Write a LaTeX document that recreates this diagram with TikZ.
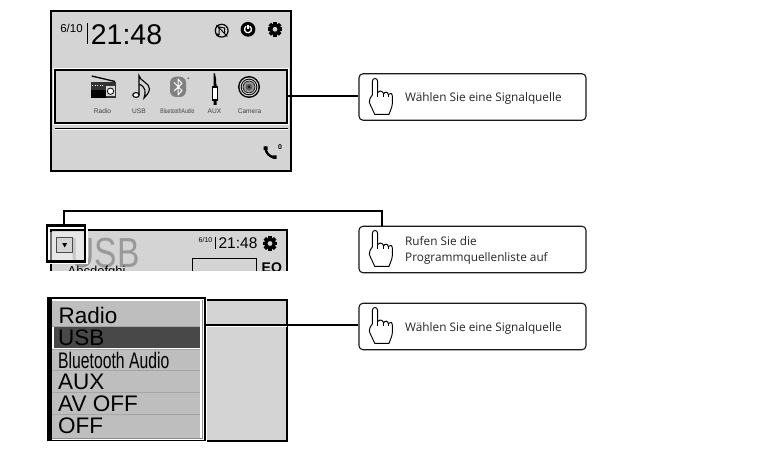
\documentclass[tikz,border=0pt]{standalone}
\usepackage{fontspec}
\usepackage{graphicx}
\setmainfont{Liberation Sans}
\newfontfamily\labelfont{Open Sans}
\newcommand{\fs}[1]{\fontsize{#1}{#1}\selectfont}
\definecolor{scr}{HTML}{D4D4D4}
\definecolor{menu}{HTML}{BEBEBE}
\definecolor{sel}{HTML}{484848}
\tikzset{
  screen/.style={draw=black,line width=2pt,fill=scr},
  halo/.style={draw=black,line width=2.1pt},
  callout/.style={draw=black!90,line width=1.1pt,rounded corners=4pt,fill=white},
  wire/.style={draw=black,line width=2pt},
  calltext/.style={font=\labelfont\fs{11.8},text=black!85,anchor=west,inner sep=0pt,align=left},
  scrtext/.style={inner sep=0pt,anchor=center},
  menutext/.style={inner sep=0pt,anchor=west,font=\fs{22.5}},
  srclabel/.style={inner sep=0pt,font=\fs{6.6},text=black!75},
}
\newcommand{\handicon}[2]{%
  \begin{scope}[shift={(#1,#2)}]
  \draw[line width=0.95pt,fill=white,line join=round]
    (15.7,40.3) .. controls (13,34) and (10.5,30) .. (10.3,27.7)
    .. controls (10.5,25) and (11.5,23) .. (13.3,21)
    -- (13.3,7.5) .. controls (13.3,3.5) and (18.7,3.5) .. (18.7,7.5)
    -- (18.7,18.5) .. controls (20,16.5) and (22.5,16.5) .. (23.7,18)
    -- (24.5,20) .. controls (26,17.5) and (28.5,17.5) .. (29.3,20.5)
    .. controls (31,18.5) and (33.3,19) .. (33.3,22)
    -- (33.3,30) .. controls (33,34) and (31,37) .. (30,40.3) -- cycle;
  \draw[line width=0.7pt] (18.7,17.5) -- (18.7,23) (24.2,19) -- (24.2,23) (29.3,20) -- (29.3,23.5);
  \end{scope}}
\newcommand{\gearicon}[3]{%
  \begin{scope}[shift={(#1,#2)},scale=#3]
  \foreach \a in {0,45,...,315}{\fill[black,rotate=\a] (-1.8,-7.3) rectangle (1.8,0);}
  \fill[black] (0,0) circle (5.7);
  \fill[scr] (0,0) circle (2.4);
  \end{scope}}
\begin{document}
\begin{tikzpicture}[x=1pt,y=-1pt]
\useasboundingbox (0,0) rectangle (764,449);
\fill[white] (0,0) rectangle (764,449);

% --- screen 1
\draw[screen] (51,11) rectangle (290.5,171);
\node[scrtext,font=\fs{11.5}] (date1) at (71.5,28.5) {6/10};
\draw[black,line width=0.8pt] (87,23.5) -- (87,44.5);
\node[scrtext,font=\fs{28.5}] (clock1) at (126.5,34.5) {21:48};
% disc off
\draw[black,line width=1.2pt] (221.7,30.7) circle (6.4);
\draw[black,line width=0.9pt] (216.5,25) -- (227.3,36.5);
\draw[black,line width=1pt] (219,35) -- (219,27) -- (224.5,28) -- (224.5,33);
\fill[black] (217.7,35) circle (1.6);
% power
\fill[black] (248,29.3) circle (7.4);
\draw[white,line width=1.3pt] (248,29.3) ++(300:3.5) arc[start angle=300,end angle=600,radius=3.5];
\draw[white,line width=1.3pt] (248,25) -- (248,29.5);
\gearicon{275}{29.3}{1}
% highlighted source strip
\fill[white] (52.5,68) rectangle (289,125);
\draw[halo,fill=scr] (55,70) rectangle (287,123);
\draw[black,line width=0.9pt] (55,128.3) -- (288,128.3);
\draw[white,line width=0.9pt] (55,129.5) -- (288,129.5);
% radio
\draw[black,line width=1.3pt] (91.7,76) -- (115,81.5);
\fill[black!80] (91,81.7) rectangle (116,97.7);
\fill[black] (91,90) rectangle (106,97.7);
\fill[white!85!black] (106,86) rectangle (115,96.5);
\draw[black,fill=white,line width=0.8pt] (110.5,91.2) circle (3.2);
\draw[white,dotted,line width=0.6pt] (92,85) -- (104,85);
% note
\draw[black,line width=1.1pt,fill=white] (136,95) ellipse (3.2 and 2.4);
\draw[black,line width=1.1pt] (139,95) -- (139,75.5)
  .. controls (139.5,81) and (150,83) .. (149.5,89) .. controls (149,93) and (146,96) .. (144,98)
  .. controls (146,92) and (146,87) .. (139,84);
% bluetooth
\fill[black!50,rounded corners=6pt] (170,76.7) rectangle (186,97);
\draw[white,line width=1pt,line join=round] (174,82.5) -- (182,90.5) -- (178,95) -- (178,79) -- (182,83.5) -- (174,91);
\fill[black!60] (188.3,78.3) circle (1);
% jack
\fill[black] (213.7,73.5) -- (215,73.5) -- (216,79) -- (216,84) -- (216.5,84) -- (216.5,105) -- (213.5,105) -- (213.5,84) -- cycle;
\draw[black,line width=1.1pt,fill=white] (212.3,87) rectangle (217.7,100);
% camera
\foreach \r/\c in {11/black,9.5/scr,8.3/black,7.3/scr,6.3/black!85,5.6/black!40,3.4/black!65,1.2/black}
  \fill[\c] (249,87) circle (\r);
\node[srclabel] (lradio) at (102.5,111.5) {Radio};
\node[srclabel] (lusb) at (139,111.5) {USB};
\node[srclabel] (lbt) at (177.5,111.5) {\scalebox{.76}[1]{BluetoothAudio}};
\node[srclabel] (laux) at (214.5,111.5) {AUX};
\node[srclabel] (lcam) at (249.5,111.5) {Camera};
% phone
\draw[black,line width=2.4pt,line cap=round] (265.5,147.5) .. controls (265.5,153) and (269.5,157) .. (275,157.5);
\fill[black] (263.5,146.5) rectangle (267.7,150) (272.5,155.5) rectangle (276.5,159);
\node[scrtext,font=\bfseries\fs{7}] (phone0) at (280,147.5) {0};
\coordinate (hl) at (287,96.5);

% --- screen 2 (cut off at the bottom)
\begin{scope}
\clip (40,200) rectangle (300,270.5);
\draw[screen] (51,230) rectangle (287,300);
\node[scrtext,font=\fs{42},text=black!40] (usbbig) at (105,253) {\scalebox{.8}[1]{USB}};
\node[scrtext,font=\fs{13},anchor=north west] (abc) at (67.5,266) {Abcdefghi};
\draw[black,line width=0.9pt] (192.7,258.5) rectangle (256,300);
\node[scrtext,font=\bfseries\fs{14},anchor=north west] (eq) at (261.5,262.5) {EQ};
\end{scope}
\node[scrtext,font=\fs{7}] (date2) at (205.5,240) {6/10};
\draw[black,line width=0.7pt] (215.7,237.5) -- (215.7,249);
\node[scrtext,font=\fs{15.5}] (clock2) at (238,243.5) {21:48};
\gearicon{270}{243.5}{1}
% focus frame round the list button
\draw[white,line width=1.2pt] (45,224) rectangle (87,263.5);
\fill[white,fill opacity=0.45] (48,232) rectangle (84,260.5);
\draw[halo] (47,225.5) rectangle (85,261.5);
\coordinate (focus) at (64,225.5);
\draw[black!70,fill=scr,line width=1pt] (56.7,237.2) rectangle (72.7,253);
\fill[black] (62.3,243.2) -- (67,243.2) -- (64.7,247.5) -- cycle;

% --- screen 3
\draw[screen] (200,300.2) -- (287,300.2) -- (287,441) -- (200,441);
\fill[white] (46,297) rectangle (206.5,442.5);
\draw[black,line width=1.6pt] (47.5,298.2) rectangle (205,440.5);
\fill[black] (48,299) rectangle (51.8,440);
\fill[menu] (52,301) rectangle (200,326);
\fill[sel]  (53.5,326) rectangle (199.5,348.5);
\fill[menu] (52,349.5) rectangle (200,370);
\fill[menu] (52,371) rectangle (200,392);
\fill[menu] (52,393) rectangle (200,414);
\fill[menu] (52,415) rectangle (200,437.5);
\foreach \y in {326,349,370.5,392.5,414.5} \draw[black!35,line width=0.6pt] (52,\y) -- (200,\y);
\draw[black!45,line width=0.6pt] (202,300) -- (202,438.5) -- (52,438.5);
\node[menutext] (m1) at (58.5,315.5) {Radio};
\node[menutext] (m2) at (58,337.5) {USB};
\node[menutext] (m3) at (58,360) {\scalebox{.7}[1]{Bluetooth Audio}};
\node[menutext] (m4) at (58,381.5) {AUX};
\node[menutext] (m5) at (58,404) {AV OFF};
\node[menutext] (m6) at (58,426) {OFF};
\coordinate (ml) at (205,325);

% --- callouts
\node[callout,minimum width=227pt,minimum height=46.5pt,inner sep=0pt] (c1) at (472.5,97) {};
\node[callout,minimum width=227pt,minimum height=46.5pt,inner sep=0pt] (c2) at (472.5,249.5) {};
\node[callout,minimum width=227pt,minimum height=46.5pt,inner sep=0pt] (c3) at (472.5,326.5) {};
\handicon{359}{74}
\handicon{359}{226}
\handicon{359}{303}
\node[calltext] (t1) at (405,98.3) {Wählen Sie eine Signalquelle};
\node[calltext] (t2a) at (405,240.7) {Rufen Sie die};
\node[calltext] (t2b) at (405,258) {Programmquellenliste auf};
\node[calltext] (t3) at (405,328.3) {Wählen Sie eine Signalquelle};

% --- connectors
\draw[wire] (hl) -- (hl -| c1.west);
\draw[wire] (focus) -- (64,211.5) -| (c2.north -| 382,0);
\draw[white,line width=1pt] (206,327) -- (287,327);
\draw[wire] (ml) -- (ml -| c3.west);
\end{tikzpicture}
\end{document}
